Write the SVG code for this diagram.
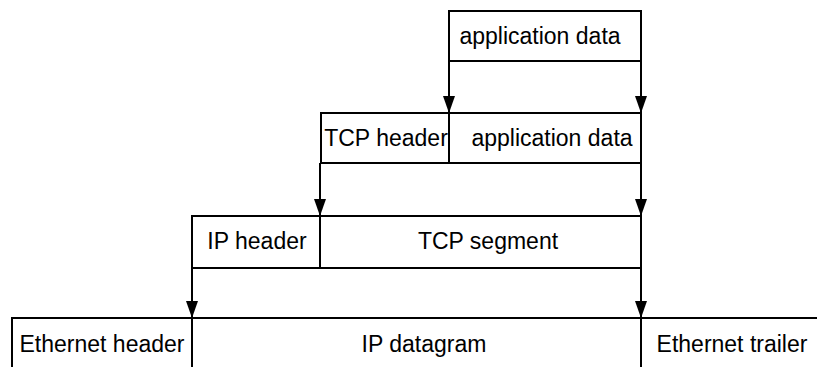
<svg xmlns="http://www.w3.org/2000/svg" width="817" height="367" viewBox="0 0 817 367">
<style>
.box{fill:none;stroke:#000;stroke-width:2}
.ln{fill:none;stroke:#000;stroke-width:2}
.t{font-family:"Liberation Sans",Arial,sans-serif;font-size:23px;fill:#000;text-anchor:middle}
</style>
<defs>
<marker id="arr" markerUnits="userSpaceOnUse" markerWidth="17" markerHeight="12" refX="17" refY="6" orient="auto" viewBox="0 0 17 12">
<path d="M0,0 L17,6 L0,12 z" fill="#000"/>
</marker>
</defs>
<rect width="817" height="367" fill="#fff"/>
<g id="app-data">
<rect class="box" x="449" y="11" width="192" height="50"/>
<text class="t" x="540" y="44">application data</text>
</g>
<g id="tcp-segment-row">
<rect class="box" x="321" y="113" width="320" height="50"/>
<line class="ln" x1="449" y1="113" x2="449" y2="163"/>
<text class="t" x="386" y="146">TCP header</text>
<text class="t" x="552" y="146">application data</text>
</g>
<g id="ip-datagram-row">
<rect class="box" x="192" y="216" width="449" height="52"/>
<line class="ln" x1="320" y1="216" x2="320" y2="268"/>
<text class="t" x="257" y="249">IP header</text>
<text class="t" x="488" y="249">TCP segment</text>
</g>
<g id="ethernet-frame-row">
<path class="ln" d="M12,368 V318 H818"/>
<line class="ln" x1="192" y1="318" x2="192" y2="368"/>
<line class="ln" x1="641" y1="318" x2="641" y2="368"/>
<text class="t" x="102" y="352">Ethernet header</text>
<text class="t" x="424" y="352">IP datagram</text>
<text class="t" x="732" y="352">Ethernet trailer</text>
</g>
<g id="connectors">
<line class="ln" x1="449" y1="61" x2="449" y2="113" marker-end="url(#arr)"/>
<line class="ln" x1="641" y1="61" x2="641" y2="113" marker-end="url(#arr)"/>
<line class="ln" x1="320" y1="163" x2="320" y2="216" marker-end="url(#arr)"/>
<line class="ln" x1="641" y1="163" x2="641" y2="216" marker-end="url(#arr)"/>
<line class="ln" x1="192" y1="268" x2="192" y2="318" marker-end="url(#arr)"/>
<line class="ln" x1="641" y1="268" x2="641" y2="318" marker-end="url(#arr)"/>
</g>
</svg>
